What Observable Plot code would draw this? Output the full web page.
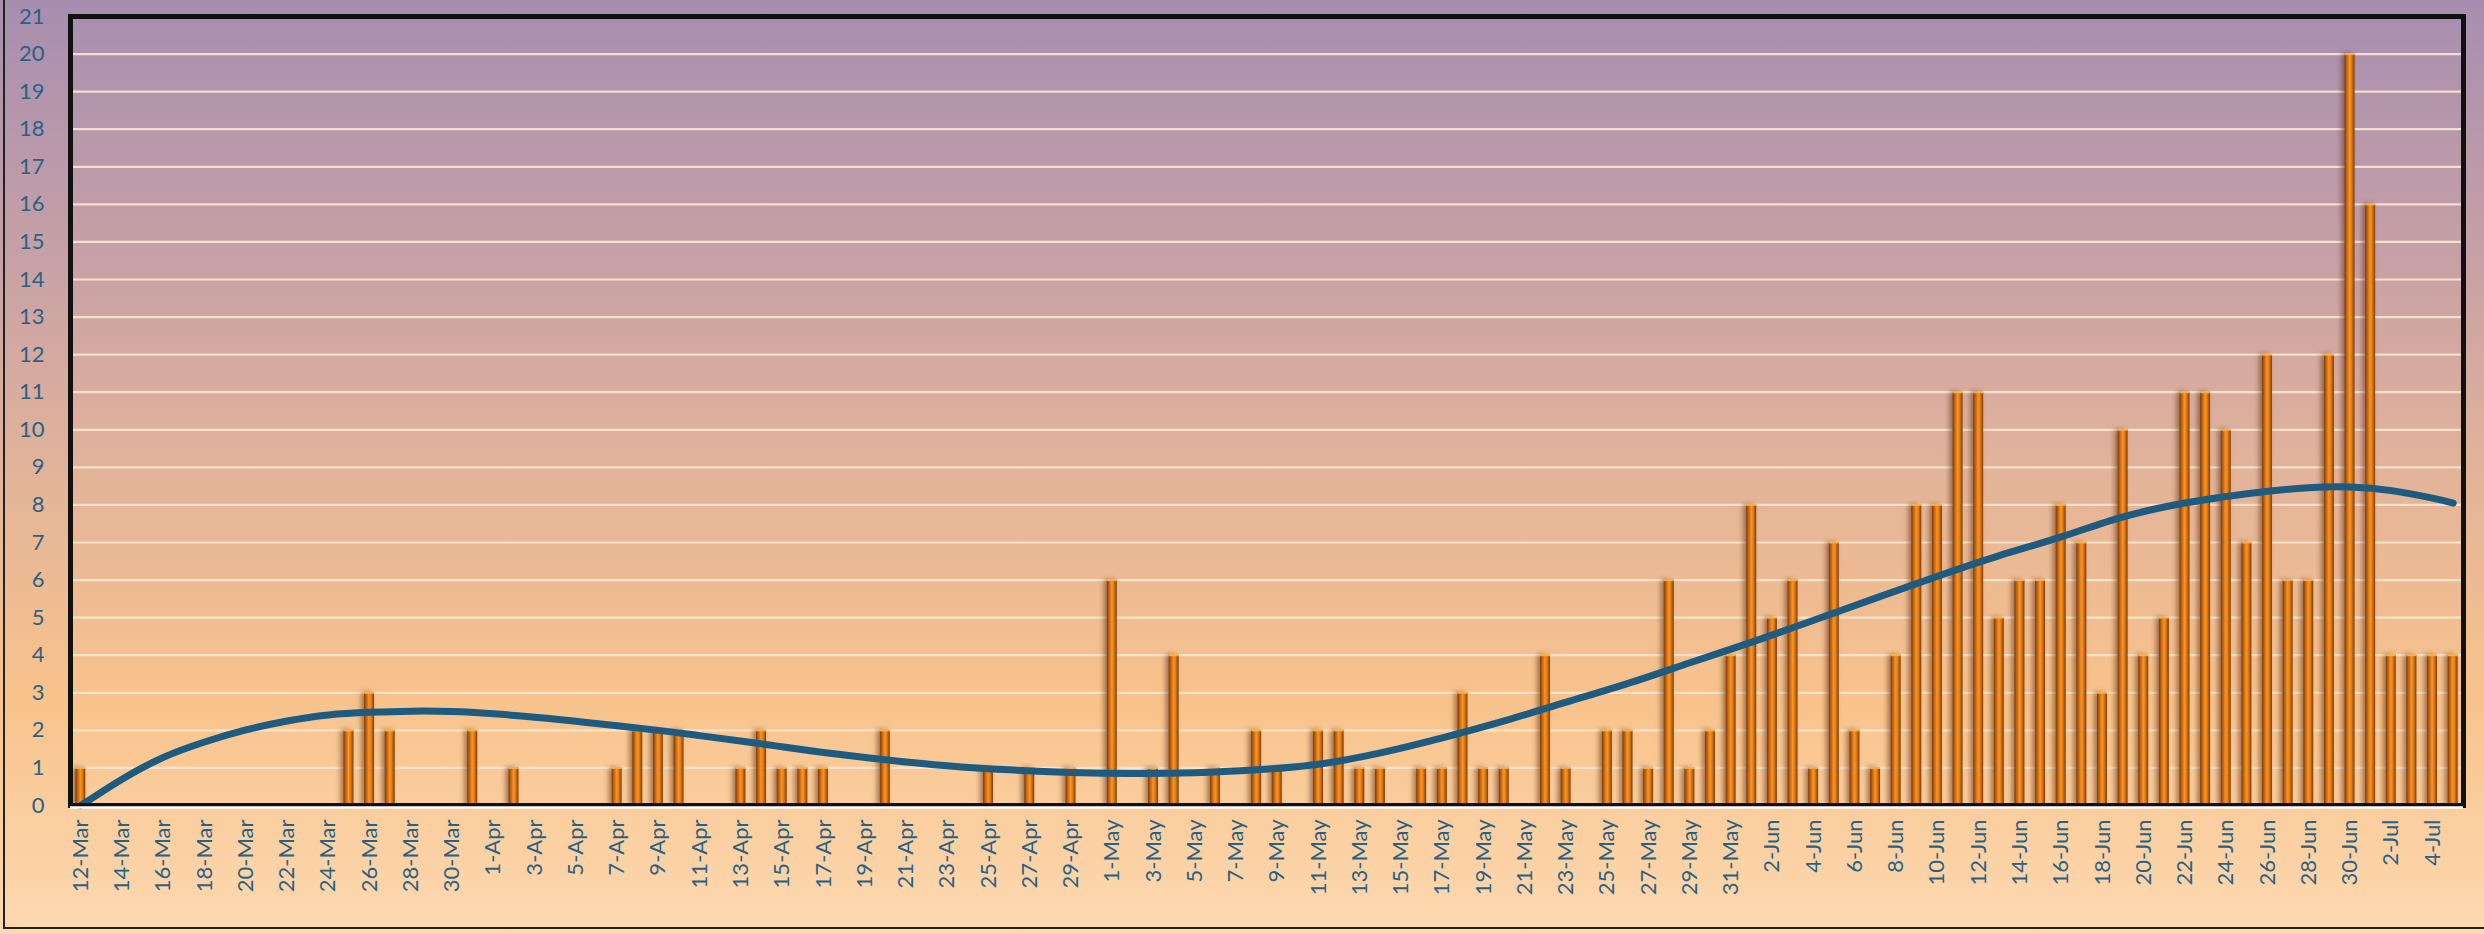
<!DOCTYPE html>
<html>
<head>
<meta charset="utf-8">
<script src="https://cdn.jsdelivr.net/npm/d3@7"></script>
<script src="https://cdn.jsdelivr.net/npm/@observablehq/plot@0.6"></script>
<style>
  html, body { margin: 0; padding: 0; }
  #chart {
    position: relative; width: 2484px; height: 934px; overflow: hidden;
    background: linear-gradient(to bottom, #a78eb0 0%, #c6a0a6 27%, #e2b39a 50%, #f8c38c 75%, #fdd9b1 100%);
  }
  #border {
    position: absolute; left: 3px; top: -6px; width: 2600px; height: 935px;
    border: 2px solid #222; box-sizing: border-box; pointer-events: none;
  }
</style>
</head>
<body>
<div id="chart"><div id="border"></div></div>
<script>
// ---- data ----
const firstDay = "2020-03-12";
const lastDayExclusive = "2020-07-06";
const dailyValues = [
  1, 0, 0, 0, 0, 0, 0, 0, 0, 0,
  0, 0, 0, 2, 3, 2, 0, 0, 0, 2,
  0, 1, 0, 0, 0, 0, 1, 2, 2, 2,
  0, 0, 1, 2, 1, 1, 1, 0, 0, 2,
  0, 0, 0, 0, 1, 0, 1, 0, 1, 0,
  6, 0, 1, 4, 0, 1, 0, 2, 1, 0,
  2, 2, 1, 1, 0, 1, 1, 3, 1, 1,
  0, 4, 1, 0, 2, 2, 1, 6, 1, 2,
  4, 8, 5, 6, 1, 7, 2, 1, 4, 8,
  8, 11, 11, 5, 6, 6, 8, 7, 3, 10,
  4, 5, 11, 11, 10, 7, 12, 6, 6, 12,
  20, 16, 4, 4, 4, 4
];
// trendline (day offset from the first day, value)
const trendDayOffsets = [0, 2, 4, 6, 8, 10, 12, 14, 16, 18, 20, 22, 24, 26, 28, 30, 33, 36, 39, 42, 45, 48, 51, 54, 57, 60, 63, 66, 69, 72, 75, 78, 81, 84, 87, 90, 93, 96, 99, 102, 105, 108, 110, 112, 114, 115];
const trendValues     = [0, 0.7, 1.28, 1.69, 2.01, 2.25, 2.41, 2.48, 2.51, 2.5, 2.44, 2.35, 2.24, 2.12, 2.0, 1.86, 1.64, 1.41, 1.22, 1.06, 0.95, 0.88, 0.85, 0.87, 0.95, 1.1, 1.4, 1.8, 2.25, 2.75, 3.25, 3.8, 4.35, 4.93, 5.52, 6.1, 6.65, 7.15, 7.68, 8.05, 8.3, 8.46, 8.48, 8.38, 8.18, 8.05];
const yTickValues = d3.range(0, 22);

// ---- derived ----
const fmt = d3.utcFormat("%-d-%b");
const days = d3.utcDay.range(new Date(firstDay + "T00:00Z"), new Date(lastDayExclusive + "T00:00Z"));
const dayLabels = days.map(fmt);
const xTickLabels = dayLabels.filter((d, i) => i % 2 === 0);

const data = dayLabels.map((label, i) => ({label, value: dailyValues[i]}));
const trendData = trendDayOffsets.map((k, j) => ({label: dayLabels[k], value: trendValues[j]}));

const chart = Plot.plot({
  width: 2484,
  height: 934,
  marginLeft: 70,
  marginRight: 21,
  marginTop: 16,
  marginBottom: 129,
  style: {background: "transparent", fontFamily: "Lato, 'Open Sans', sans-serif", fontSize: "22px", color: "#2b6283", overflow: "visible"},
  x: {type: "band", domain: dayLabels, paddingInner: 0.52, paddingOuter: 0.26, axis: null},
  y: {domain: [0, 21], axis: null},
  marks: [
    Plot.ruleY(d3.range(1, 21), {stroke: "#fbe6d2", strokeWidth: 2.2, strokeOpacity: 0.9}),
    Plot.barY(data, {x: "label", y: "value", fill: "url(#barGrad)"}),
    Plot.tickY(data.filter(d => d.value > 0), {x: "label", y: "value", stroke: "#f6b04c", strokeWidth: 2}),
    Plot.line(trendData, {x: "label", y: "value", stroke: "#1d5b80", strokeWidth: 7, curve: "natural", strokeLinecap: "round"}),
    Plot.frame({stroke: "#111", strokeWidth: 5}),
    Plot.ruleY([0], {stroke: "#ffffff", strokeWidth: 2.5, dy: 2}),
    Plot.axisY({ticks: yTickValues, tickSize: 0, tickPadding: 26, fontSize: 22, label: null}),
    Plot.axisX({ticks: xTickLabels, tickSize: 0, tickRotate: -90, tickPadding: 14, fontSize: 22, label: null})
  ]
});

// gradient + shadow definitions for the cylinder-like bars
const svg = d3.select(chart);
const defs = svg.insert("defs", ":first-child");
const g = defs.append("linearGradient").attr("id", "barGrad").attr("x1", "0").attr("x2", "1").attr("y1", "0").attr("y2", "0");
[["0%", "#7a3a08"], ["22%", "#c4620a"], ["50%", "#f4962a"], ["72%", "#e0780e"], ["100%", "#7a3a08"]]
  .forEach(([o, c]) => g.append("stop").attr("offset", o).attr("stop-color", c));
const f = defs.append("filter").attr("id", "barShadow").attr("x", "-20%").attr("y", "-5%").attr("width", "140%").attr("height", "110%");
f.append("feDropShadow").attr("dx", -3).attr("dy", 0).attr("stdDeviation", 2.5)
  .attr("flood-color", "#5a2e0a").attr("flood-opacity", 0.55);
svg.selectAll("g[aria-label='bar']").attr("filter", "url(#barShadow)");

const host = document.getElementById("chart");
chart.style.position = "absolute";
chart.style.left = "0";
chart.style.top = "0";
host.insertBefore(chart, host.firstChild);
</script>
</body>
</html>
